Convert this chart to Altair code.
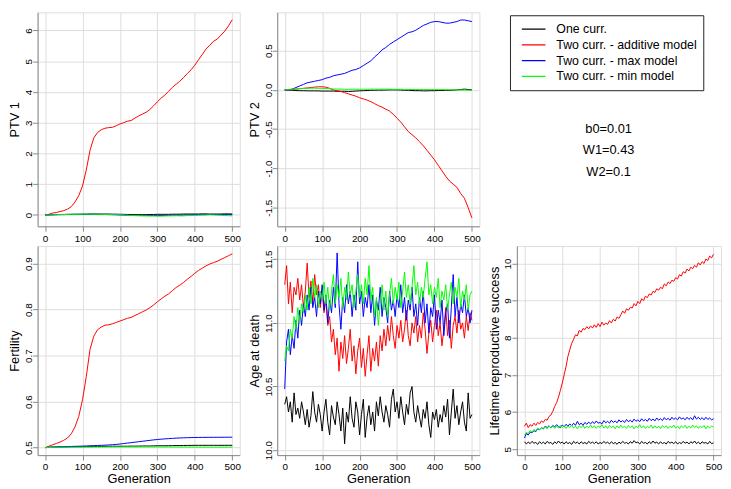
import altair as alt
import pandas as pd

SERIES = ["One curr.", "Two curr. - additive model", "Two curr. - max model", "Two curr. - min model"]
COLORS = ["#000000", "#ff0000", "#0000ff", "#00ff00"]
PARAM_LABELS = ["b0=0.01", "W1=0.43", "W2=0.1"]
X_TICKS = [0, 100, 200, 300, 400, 500]

GEN10 = list(range(0, 501, 10))
GEN5 = list(range(0, 501, 5))

# ---------------- PTV 1 (every 10 generations) ----------------
PTV1_ONE = [0.000, 0.005, 0.010, 0.010, 0.015, 0.015, 0.020, 0.020, 0.020, 0.020,
            0.025, 0.025, 0.030, 0.030, 0.030, 0.030, 0.030, 0.030, 0.025, 0.025,
            0.020, 0.020, 0.015, 0.015, 0.010, 0.010, 0.010, 0.010, 0.015, 0.015,
            0.020, 0.020, 0.020, 0.020, 0.025, 0.025, 0.025, 0.030, 0.030, 0.030,
            0.030, 0.030, 0.035, 0.035, 0.030, 0.030, 0.030, 0.030, 0.035, 0.035,
            0.030]
PTV1_ADD = [0.00, 0.02, 0.06, 0.08, 0.11, 0.14, 0.19, 0.27, 0.42, 0.63,
            0.94, 1.46, 2.10, 2.50, 2.68, 2.77, 2.82, 2.84, 2.85, 2.90,
            2.96, 3.00, 3.05, 3.07, 3.15, 3.22, 3.28, 3.34, 3.43, 3.55,
            3.68, 3.80, 3.90, 4.02, 4.15, 4.25, 4.35, 4.47, 4.60, 4.72,
            4.87, 5.05, 5.22, 5.40, 5.52, 5.65, 5.72, 5.85, 5.98, 6.15,
            6.35]
PTV1_MAX = [0.000, 0.000, 0.005, 0.010, 0.010, 0.010, 0.015, 0.015, 0.020, 0.020,
            0.020, 0.020, 0.020, 0.020, 0.020, 0.015, 0.015, 0.010, 0.010, 0.005,
            0.000, -0.005, -0.010, -0.015, -0.020, -0.020, -0.020, -0.020, -0.020, -0.020,
            -0.020, -0.020, -0.015, -0.015, -0.010, -0.010, -0.010, -0.005, 0.000, 0.000,
            0.005, 0.010, 0.010, 0.010, 0.015, 0.015, 0.010, 0.010, 0.010, 0.010,
            0.010]
PTV1_MIN = [0.000, 0.000, 0.005, 0.010, 0.010, 0.015, 0.015, 0.020, 0.020, 0.020,
            0.025, 0.025, 0.025, 0.020, 0.020, 0.020, 0.015, 0.015, 0.010, 0.010,
            0.005, 0.000, -0.010, -0.015, -0.020, -0.025, -0.030, -0.030, -0.035, -0.035,
            -0.040, -0.040, -0.035, -0.030, -0.030, -0.025, -0.030, -0.030, -0.020, -0.020,
            -0.015, -0.010, -0.005, 0.000, 0.005, 0.000, -0.005, -0.010, -0.020, -0.025,
            -0.030]

# ---------------- PTV 2 (every 10 generations) ----------------
PTV2_ONE = [0.000, -0.002, -0.005, -0.008, -0.010, -0.010, -0.012, -0.012, -0.012, -0.013,
            -0.015, -0.015, -0.015, -0.015, -0.018, -0.018, -0.018, -0.020, -0.018, -0.015,
            -0.012, -0.010, -0.008, -0.005, -0.005, -0.003, -0.003, -0.002, 0.000, 0.000,
            0.000, -0.002, -0.005, -0.005, -0.008, -0.010, -0.010, -0.012, -0.012, -0.010,
            -0.010, -0.008, -0.008, -0.006, -0.005, -0.003, 0.000, 0.005, 0.010, 0.005,
            0.000]
PTV2_ADD = [0.000, 0.000, 0.005, 0.010, 0.015, 0.020, 0.025, 0.030, 0.035, 0.040,
            0.040, 0.035, 0.020, 0.000, -0.010, -0.020, -0.035, -0.050, -0.065, -0.080,
            -0.100, -0.115, -0.130, -0.150, -0.175, -0.200, -0.220, -0.245, -0.270, -0.310,
            -0.360, -0.410, -0.470, -0.530, -0.570, -0.610, -0.660, -0.710, -0.770, -0.830,
            -0.890, -0.960, -1.030, -1.100, -1.160, -1.200, -1.240, -1.320, -1.380, -1.500,
            -1.630]
PTV2_MAX = [0.00, 0.00, 0.01, 0.03, 0.05, 0.07, 0.09, 0.10, 0.11, 0.12,
            0.13, 0.15, 0.16, 0.18, 0.19, 0.20, 0.21, 0.23, 0.25, 0.26,
            0.28, 0.31, 0.34, 0.37, 0.42, 0.46, 0.51, 0.54, 0.58, 0.61,
            0.64, 0.67, 0.70, 0.73, 0.74, 0.76, 0.79, 0.82, 0.84, 0.86,
            0.87, 0.87, 0.86, 0.85, 0.85, 0.86, 0.87, 0.89, 0.89, 0.88,
            0.87]
PTV2_MIN = [0.000, 0.005, 0.010, 0.012, 0.015, 0.018, 0.020, 0.022, 0.022, 0.020,
            0.020, 0.018, 0.015, 0.012, 0.010, 0.010, 0.008, 0.008, 0.008, 0.008,
            0.008, 0.008, 0.008, 0.010, 0.010, 0.010, 0.010, 0.010, 0.010, 0.008,
            0.008, 0.008, 0.006, 0.006, 0.005, 0.005, 0.005, 0.004, 0.004, 0.004,
            0.004, 0.004, 0.003, 0.003, 0.002, 0.002, 0.000, -0.002, -0.003, -0.004,
            -0.005]

# ---------------- Fertility (every 10 generations) ----------------
FERT_ONE = [0.5000, 0.5005, 0.5010, 0.5010, 0.5012, 0.5015, 0.5015, 0.5018, 0.5020, 0.5020,
            0.5020, 0.5022, 0.5022, 0.5025, 0.5025, 0.5025, 0.5028, 0.5028, 0.5030, 0.5030,
            0.5030, 0.5030, 0.5030, 0.5032, 0.5032, 0.5033, 0.5035, 0.5035, 0.5035, 0.5038,
            0.5040, 0.5040, 0.5040, 0.5042, 0.5042, 0.5045, 0.5045, 0.5045, 0.5048, 0.5048,
            0.5050, 0.5050, 0.5050, 0.5050, 0.5050, 0.5050, 0.5050, 0.5050, 0.5050, 0.5050,
            0.5050]
FERT_ADD = [0.500, 0.503, 0.506, 0.509, 0.512, 0.516, 0.521, 0.530, 0.545, 0.568,
            0.604, 0.654, 0.713, 0.742, 0.756, 0.762, 0.766, 0.767, 0.769, 0.772,
            0.775, 0.778, 0.781, 0.783, 0.787, 0.791, 0.795, 0.799, 0.804, 0.810,
            0.817, 0.823, 0.829, 0.834, 0.841, 0.848, 0.853, 0.859, 0.866, 0.872,
            0.879, 0.885, 0.890, 0.895, 0.899, 0.902, 0.905, 0.909, 0.913, 0.917,
            0.921]
FERT_MAX = [0.5000, 0.5008, 0.5012, 0.5015, 0.5018, 0.5020, 0.5022, 0.5025, 0.5028, 0.5030,
            0.5033, 0.5036, 0.5040, 0.5043, 0.5046, 0.5050, 0.5053, 0.5058, 0.5063, 0.5070,
            0.5078, 0.5088, 0.5098, 0.5108, 0.5118, 0.5128, 0.5138, 0.5148, 0.5158, 0.5168,
            0.5176, 0.5183, 0.5190, 0.5196, 0.5201, 0.5206, 0.5210, 0.5213, 0.5216, 0.5218,
            0.5220, 0.5221, 0.5222, 0.5223, 0.5223, 0.5224, 0.5224, 0.5225, 0.5225, 0.5226,
            0.5226]
FERT_MIN = [0.5000, 0.5003, 0.5005, 0.5007, 0.5008, 0.5010, 0.5010, 0.5010, 0.5010, 0.5010,
            0.5010, 0.5012, 0.5012, 0.5012, 0.5013, 0.5013, 0.5013, 0.5014, 0.5014, 0.5014,
            0.5015, 0.5015, 0.5015, 0.5015, 0.5015, 0.5015, 0.5015, 0.5015, 0.5015, 0.5015,
            0.5015, 0.5015, 0.5014, 0.5014, 0.5013, 0.5013, 0.5012, 0.5012, 0.5012, 0.5011,
            0.5011, 0.5011, 0.5010, 0.5010, 0.5010, 0.5010, 0.5010, 0.5010, 0.5010, 0.5010,
            0.5010]

# ---------------- Age at death (every 5 generations) ----------------
AGE_ONE = [10.36, 10.42, 10.30, 10.38, 10.22, 10.45, 10.28, 10.33, 10.25, 10.38,
           10.30, 10.20, 10.32, 10.18, 10.27, 10.46, 10.30, 10.22, 10.36, 10.28,
           10.15, 10.30, 10.40, 10.22, 10.12, 10.35, 10.26, 10.20, 10.38, 10.28,
           10.15, 10.33, 10.05, 10.30, 10.22, 10.42, 10.25, 10.18, 10.38, 10.30,
           10.12, 10.28, 10.40, 10.10, 10.26, 10.35, 10.20, 10.30, 10.15, 10.38,
           10.27, 10.42, 10.30, 10.22, 10.35, 10.28, 10.18, 10.40, 10.48, 10.30,
           10.38, 10.25, 10.42, 10.30, 10.20, 10.36, 10.28, 10.45, 10.50, 10.30,
           10.22, 10.35, 10.26, 10.18, 10.32, 10.25, 10.38, 10.20, 10.10, 10.30,
           10.24, 10.32, 10.18, 10.28, 10.22, 10.35, 10.26, 10.40, 10.12, 10.30,
           10.48, 10.25, 10.35, 10.20, 10.30, 10.38, 10.22, 10.15, 10.45, 10.25,
           10.28]
AGE_ADD = [11.30, 11.45, 11.15, 11.32, 11.08, 11.28, 11.22, 11.35, 11.18, 11.30,
           11.12, 11.25, 11.47, 11.20, 11.33, 11.15, 11.38, 11.22, 11.30, 11.12,
           11.25, 11.08, 11.18, 10.98, 11.05, 10.85, 10.95, 10.75, 10.88, 10.62,
           10.85, 10.72, 10.90, 10.68, 10.80, 10.95, 10.70, 10.82, 10.60, 10.78,
           10.88, 10.65, 10.80, 10.58, 10.75, 10.90, 10.62, 10.80, 10.70, 10.85,
           10.66, 10.90, 10.78, 10.95, 10.82, 10.98, 10.86, 11.05, 10.90, 10.80,
           10.98, 10.88, 11.02, 10.85, 10.95, 11.10, 10.90, 10.82, 11.00, 10.92,
           11.05, 10.85, 10.98, 10.88, 11.08, 10.95, 10.76, 10.92, 11.02, 10.85,
           10.98, 11.10, 10.90, 11.00, 10.82, 10.95, 11.12, 10.90, 11.02, 10.80,
           10.98, 11.05, 10.92, 11.10, 10.95, 11.00, 10.88, 11.05, 10.94, 11.08,
           11.02]
AGE_MAX = [10.48, 10.85, 10.95, 10.75, 10.90, 10.80, 11.02, 10.88, 11.10, 10.98,
           11.15, 11.05, 11.22, 11.10, 11.28, 11.12, 11.20, 11.05, 11.25, 11.15,
           11.30, 11.10, 11.22, 11.00, 11.18, 11.08, 11.28, 11.12, 11.55, 11.15,
           10.95, 11.20, 11.08, 11.30, 11.15, 11.25, 11.05, 11.22, 11.10, 11.48,
           11.15, 11.25, 11.05, 11.20, 11.12, 11.30, 11.08, 11.22, 10.98, 11.18,
           11.10, 11.28, 11.05, 11.20, 11.12, 11.00, 11.25, 11.10, 11.18, 11.05,
           11.22, 11.12, 11.30, 11.08, 11.20, 11.02, 11.18, 11.10, 11.28, 11.05,
           11.15, 10.98, 11.20, 11.08, 11.25, 11.00, 11.15, 10.92, 11.12, 11.05,
           11.22, 10.95, 11.10, 11.00, 11.18, 10.90, 11.08, 11.15, 10.88, 11.12,
           11.38, 11.05, 11.20, 11.00, 11.15, 11.08, 11.22, 11.05, 11.12, 11.00,
           11.10]
AGE_MIN = [10.70, 10.82, 10.78, 10.95, 10.88, 11.05, 10.95, 11.12, 11.00, 11.15,
           11.08, 11.22, 11.10, 11.28, 11.15, 11.35, 11.20, 11.30, 11.12, 11.25,
           11.18, 11.32, 11.15, 11.28, 11.10, 11.25, 11.38, 11.15, 11.30, 11.20,
           11.35, 11.12, 11.28, 11.18, 11.40, 11.22, 11.30, 11.12, 11.25, 11.38,
           11.20, 11.30, 11.15, 11.35, 11.22, 11.45, 11.18, 11.28, 11.05, 11.20,
           10.98, 11.15, 11.30, 11.10, 11.25, 11.05, 11.22, 11.35, 11.15, 11.28,
           11.18, 11.32, 11.12, 11.25, 11.40, 11.20, 11.30, 11.15, 11.28, 11.45,
           11.22, 11.32, 11.15, 11.28, 11.20, 11.35, 11.48, 11.22, 11.30, 11.15,
           11.28, 11.20, 11.35, 11.12, 11.25, 11.18, 11.30, 11.10, 11.22, 11.32,
           11.15, 11.28, 11.20, 11.35, 11.12, 11.25, 11.18, 11.30, 11.10, 11.22,
           11.25]

# ---------------- Lifetime reproductive success (every 5 generations) ----------------
LRS_ONE = [5.20, 5.14, 5.19, 5.15, 5.21, 5.16, 5.18, 5.13, 5.20, 5.15,
           5.19, 5.14, 5.21, 5.16, 5.18, 5.13, 5.20, 5.15, 5.22, 5.16,
           5.19, 5.14, 5.20, 5.15, 5.18, 5.13, 5.21, 5.16, 5.19, 5.14,
           5.20, 5.15, 5.18, 5.14, 5.21, 5.16, 5.19, 5.15, 5.20, 5.14,
           5.18, 5.15, 5.21, 5.16, 5.19, 5.14, 5.20, 5.15, 5.18, 5.13,
           5.19, 5.15, 5.21, 5.16, 5.18, 5.14, 5.20, 5.16, 5.23, 5.17,
           5.19, 5.14, 5.21, 5.16, 5.18, 5.14, 5.20, 5.15, 5.22, 5.16,
           5.19, 5.14, 5.20, 5.15, 5.18, 5.14, 5.21, 5.16, 5.19, 5.15,
           5.20, 5.14, 5.18, 5.15, 5.21, 5.16, 5.19, 5.14, 5.20, 5.16,
           5.22, 5.15, 5.19, 5.14, 5.20, 5.16, 5.18, 5.14, 5.21, 5.15,
           5.17]
LRS_ADD = [5.62, 5.70, 5.58, 5.66, 5.62, 5.70, 5.64, 5.72, 5.68, 5.76,
           5.72, 5.80, 5.78, 5.88, 5.92, 6.02, 6.15, 6.25, 6.40, 6.58,
           6.78, 7.00, 7.22, 7.50, 7.68, 7.85, 7.96, 8.08, 8.05, 8.20,
           8.15, 8.25, 8.22, 8.30, 8.24, 8.32, 8.26, 8.35, 8.28, 8.38,
           8.30, 8.42, 8.34, 8.40, 8.36, 8.46, 8.40, 8.50, 8.45, 8.56,
           8.52, 8.62, 8.72, 8.66, 8.78, 8.74, 8.82, 8.80, 8.92, 8.86,
           8.98, 8.92, 9.05, 9.00, 9.12, 9.08, 9.18, 9.15, 9.25, 9.22,
           9.32, 9.28, 9.36, 9.32, 9.45, 9.40, 9.50, 9.46, 9.55, 9.52,
           9.62, 9.58, 9.70, 9.66, 9.78, 9.74, 9.85, 9.80, 9.90, 9.86,
           9.95, 9.90, 10.02, 9.96, 10.05, 10.00, 10.12, 10.08, 10.20, 10.15,
           10.25]
LRS_MAX = [5.30, 5.42, 5.38, 5.46, 5.44, 5.50, 5.47, 5.55, 5.52, 5.58,
           5.55, 5.62, 5.58, 5.63, 5.57, 5.64, 5.60, 5.66, 5.61, 5.58,
           5.65, 5.60, 5.67, 5.62, 5.68, 5.63, 5.70, 5.64, 5.75, 5.66,
           5.70, 5.64, 5.72, 5.67, 5.73, 5.68, 5.74, 5.69, 5.76, 5.70,
           5.72, 5.68, 5.77, 5.71, 5.75, 5.70, 5.78, 5.72, 5.76, 5.71,
           5.79, 5.73, 5.77, 5.72, 5.80, 5.74, 5.78, 5.73, 5.81, 5.75,
           5.79, 5.74, 5.82, 5.76, 5.80, 5.75, 5.83, 5.77, 5.81, 5.76,
           5.84, 5.78, 5.82, 5.77, 5.85, 5.79, 5.83, 5.78, 5.86, 5.80,
           5.84, 5.79, 5.87, 5.81, 5.84, 5.79, 5.86, 5.80, 5.85, 5.79,
           5.90, 5.81, 5.86, 5.80, 5.85, 5.79, 5.86, 5.80, 5.84, 5.79,
           5.82]
LRS_MIN = [5.38, 5.45, 5.42, 5.50, 5.46, 5.53, 5.49, 5.56, 5.52, 5.58,
           5.54, 5.60, 5.55, 5.62, 5.57, 5.63, 5.56, 5.62, 5.57, 5.64,
           5.58, 5.63, 5.56, 5.62, 5.58, 5.65, 5.57, 5.62, 5.55, 5.63,
           5.58, 5.64, 5.56, 5.62, 5.58, 5.65, 5.57, 5.63, 5.56, 5.62,
           5.59, 5.66, 5.57, 5.63, 5.56, 5.64, 5.58, 5.62, 5.55, 5.63,
           5.57, 5.65, 5.58, 5.62, 5.56, 5.64, 5.58, 5.63, 5.55, 5.62,
           5.58, 5.66, 5.57, 5.63, 5.56, 5.62, 5.58, 5.65, 5.56, 5.63,
           5.57, 5.62, 5.55, 5.64, 5.58, 5.63, 5.56, 5.62, 5.58, 5.65,
           5.57, 5.62, 5.55, 5.63, 5.58, 5.64, 5.56, 5.62, 5.57, 5.65,
           5.58, 5.63, 5.56, 5.62, 5.58, 5.64, 5.55, 5.62, 5.57, 5.63,
           5.59]


def long_df(gens, lists):
    rows = []
    for name, vals in zip(SERIES, lists):
        assert len(vals) == len(gens), (name, len(vals))
        for g, v in zip(gens, vals):
            rows.append({"gen": g, "value": v, "series": name})
    return pd.DataFrame(rows)


FONT = "Liberation Sans, Arial, sans-serif"

LEGEND = alt.Legend(
    title=None, orient="none", legendX=479, legendY=3,
    symbolType="stroke", symbolSize=576, symbolStrokeWidth=1.2,
    labelFont=FONT, labelFontSize=12.5, labelColor="black", labelLimit=0,
    labelOffset=10, symbolOffset=5, rowPadding=0, clipHeight=16,
    strokeColor="#222222", fillColor="white", padding=6, cornerRadius=0,
)

COL_W = [205, 205, 207]
ROW_H = [217, 212]


def panel(df, ytitle, ydomain, yticks, label_expr, width, height, xtitle):
    x_axis = alt.Axis(values=X_TICKS, format="d", title=xtitle, labelPadding=2, titlePadding=1,
                      titleFontWeight="normal", titleFont=FONT, titleFontSize=13)
    y_axis = alt.Axis(values=yticks, labelExpr=label_expr, title=ytitle,
                      labelAngle=270, labelAlign="center", labelBaseline="alphabetic",
                      labelPadding=1, titlePadding=2,
                      titleFontWeight="normal", titleFont=FONT, titleFontSize=13)
    return alt.Chart(df).mark_line(strokeWidth=1, clip=True).encode(
        x=alt.X("gen:Q", scale=alt.Scale(domain=[-20, 520], nice=False, zero=False), axis=x_axis),
        y=alt.Y("value:Q", scale=alt.Scale(domain=ydomain, nice=False, zero=False), axis=y_axis),
        color=alt.Color("series:N", scale=alt.Scale(domain=SERIES, range=COLORS), legend=LEGEND),
    ).properties(width=width, height=height)


FMT1 = "datum.value < 0 ? '-' + format(-datum.value, '.1f') : format(datum.value, '.1f')"
FMT0 = "format(datum.value, 'd')"

p1 = panel(long_df(GEN10, [PTV1_ONE, PTV1_ADD, PTV1_MAX, PTV1_MIN]), "PTV 1",
           [-0.37, 6.59], [0, 1, 2, 3, 4, 5, 6], FMT0, COL_W[0], ROW_H[0], None)
p2 = panel(long_df(GEN10, [PTV2_ONE, PTV2_ADD, PTV2_MAX, PTV2_MIN]), "PTV 2",
           [-1.737, 0.988], [-1.5, -1.0, -0.5, 0.0, 0.5], FMT1, COL_W[1], ROW_H[0], None)

params = pd.DataFrame({"label": PARAM_LABELS, "row": list(range(len(PARAM_LABELS)))})
p3 = alt.Chart(params).mark_text(font=FONT, fontSize=13, align="center",
                                 baseline="middle", color="black").encode(
    x=alt.value(93),
    y=alt.Y("row:Q", scale=alt.Scale(domain=[0, 2], range=[118, 162]), axis=None),
    text="label:N",
).properties(width=COL_W[2], height=ROW_H[0], view=alt.ViewBackground(stroke="transparent"))

p4 = panel(long_df(GEN10, [FERT_ONE, FERT_ADD, FERT_MAX, FERT_MIN]), "Fertility",
           [0.4837, 0.938], [0.5, 0.6, 0.7, 0.8, 0.9], FMT1, COL_W[0], ROW_H[1], "Generation")
p5 = panel(long_df(GEN5, [AGE_ONE, AGE_ADD, AGE_MAX, AGE_MIN]), "Age at death",
           [9.961, 11.604], [10.0, 10.5, 11.0, 11.5], FMT1, COL_W[1], ROW_H[1], "Generation")
p6 = panel(long_df(GEN5, [LRS_ONE, LRS_ADD, LRS_MAX, LRS_MIN]), "Lifetime reproductive success",
           [4.84, 10.47], [5, 6, 7, 8, 9, 10], FMT0, COL_W[2], ROW_H[1], "Generation")

chart = alt.concat(
    p1, p2, p3, p4, p5, p6, columns=3,
    spacing={"row": 20, "column": 38}, bounds="flush",
).properties(
    padding=0,
).configure_view(
    stroke="#444444", strokeWidth=1,
).configure_axis(
    labelFont=FONT, titleFont=FONT, labelFontSize=10, titleFontSize=13,
    titleFontWeight="normal", labelColor="black", titleColor="black",
    tickColor="black", tickSize=4, tickWidth=1, domain=False, grid=False,
    labelFlush=False, labelOverlap=False,
).configure(background="white")

chart.save("out.html", embed_options={"renderer": "svg", "actions": False})
